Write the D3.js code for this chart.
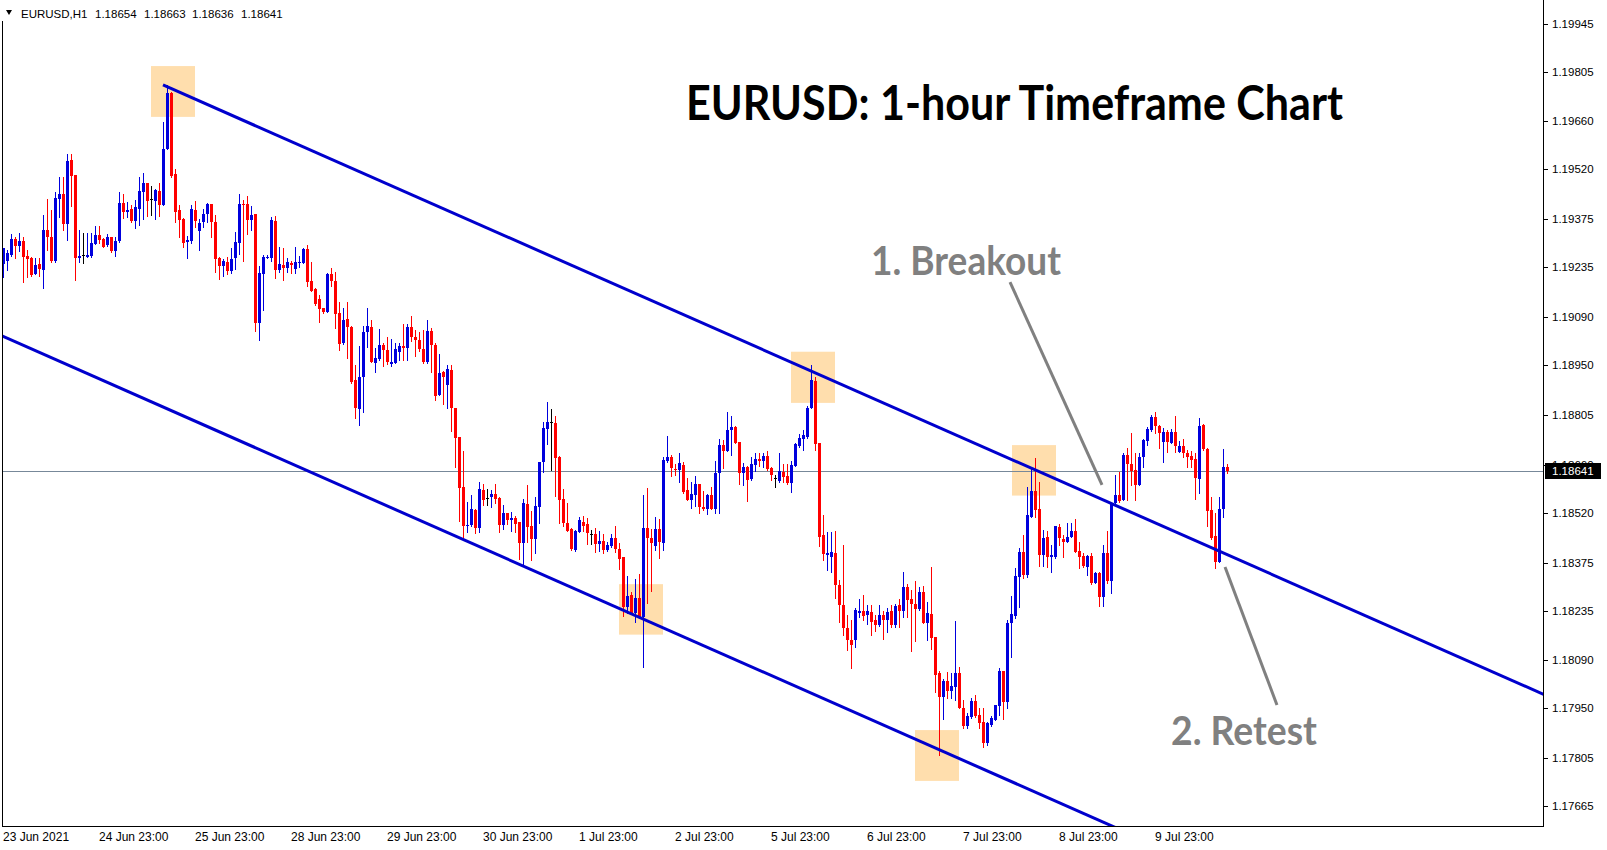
<!DOCTYPE html>
<html><head><meta charset="utf-8">
<script src="https://cdn.jsdelivr.net/npm/d3@7"></script>
<style>html,body{margin:0;padding:0;background:#fff;overflow:hidden}svg{display:block}</style>
</head><body>
<svg id="chart" width="1607" height="850"></svg>
<script>
// ---- DATA (EURUSD H1, bars from 23 Jun 23:00 to 12 Jul 2021) ----
const opens = [1.19245,1.19254,1.19271,1.19317,1.19297,1.19312,1.19268,1.19263,1.19214,1.19245,
1.19227,1.19344,1.19323,1.19253,1.19434,1.19449,1.19361,1.19548,1.19503,1.19263,
1.19270,1.19266,1.19268,1.19304,1.19329,1.19316,1.19300,1.19323,1.19281,1.19312,
1.19422,1.19397,1.19405,1.19370,1.19406,1.19453,1.19481,1.19433,1.19429,1.19457,
1.19415,1.19580,1.19744,1.19507,1.19402,1.19376,1.19309,1.19312,1.19402,1.19342,
1.19367,1.19390,1.19419,1.19367,1.19262,1.19240,1.19251,1.19224,1.19263,1.19307,
1.19419,1.19419,1.19374,1.19390,1.19074,1.19214,1.19263,1.19262,1.19370,1.19227,
1.19242,1.19234,1.19247,1.19230,1.19248,1.19247,1.19288,1.19195,1.19172,1.19144,
1.19117,1.19106,1.19215,1.19196,1.19102,1.19013,1.19084,1.19062,1.18907,1.18822,
1.18915,1.19045,1.19062,1.18957,1.18968,1.19009,1.18994,1.18954,1.18957,1.18989,
1.19006,1.19001,1.19060,1.19031,1.19023,1.18997,1.18958,1.19049,1.19010,1.18863,
1.18931,1.18892,1.18936,1.18824,1.18742,1.18595,1.18480,1.18485,1.18528,1.18476,
1.18586,1.18562,1.18565,1.18575,1.18564,1.18484,1.18519,1.18500,1.18505,1.18493,
1.18433,1.18545,1.18481,1.18443,1.18538,1.18668,1.18765,1.18783,1.18781,1.18682,
1.18560,1.18491,1.18473,1.18411,1.18465,1.18493,1.18487,1.18457,1.18458,1.18428,
1.18438,1.18411,1.18424,1.18445,1.18415,1.18390,1.18246,1.18280,1.18227,1.18272,
1.18215,1.18475,1.18447,1.18424,1.18473,1.18433,1.18672,1.18681,1.18648,1.18645,
1.18659,1.18586,1.18557,1.18572,1.18604,1.18536,1.18530,1.18572,1.18530,1.18635,
1.18716,1.18701,1.18761,1.18771,1.18726,1.18635,1.18654,1.18618,1.18659,1.18677,
1.18672,1.18685,1.18651,1.18622,1.18613,1.18640,1.18627,1.18606,1.18656,1.18714,
1.18735,1.18740,1.18824,1.18904,1.18722,1.18455,1.18396,1.18391,1.18403,1.18310,
1.18251,1.18184,1.18149,1.18149,1.18229,1.18233,1.18223,1.18231,1.18208,1.18193,
1.18222,1.18208,1.18234,1.18193,1.18251,1.18235,1.18305,1.18269,1.18255,1.18239,
1.18290,1.18200,1.18226,1.18159,1.18052,1.17984,1.18031,1.18002,1.18013,1.18054,
1.17952,1.17899,1.17926,1.17972,1.17931,1.17911,1.17850,1.17902,1.17916,1.17958,
1.18060,1.17970,1.18200,1.18219,1.18334,1.18406,1.18339,1.18509,1.18583,1.18531,
1.18397,1.18449,1.18390,1.18390,1.18478,1.18443,1.18436,1.18450,1.18468,1.18409,
1.18394,1.18363,1.18394,1.18316,1.18344,1.18276,1.18402,1.18321,1.18549,1.18572,
1.18557,1.18688,1.18662,1.18645,1.18601,1.18681,1.18730,1.18761,1.18798,1.18773,
1.18727,1.18754,1.18724,1.18756,1.18698,1.18714,1.18695,1.18685,1.18676,1.18618,
1.18776,1.18706,1.18528,1.18452,1.18378,1.18531,1.18654];

const highs = [1.19292,1.19285,1.19332,1.19322,1.19334,1.19324,1.19285,1.19266,1.19262,1.19261,
1.19387,1.19433,1.19402,1.19453,1.19499,1.19499,1.19565,1.19565,1.19505,1.19344,
1.19336,1.19336,1.19336,1.19355,1.19355,1.19319,1.19331,1.19324,1.19323,1.19455,
1.19449,1.19426,1.19415,1.19431,1.19499,1.19510,1.19481,1.19472,1.19464,1.19481,
1.19659,1.19766,1.19746,1.19522,1.19415,1.19378,1.19326,1.19416,1.19428,1.19377,
1.19405,1.19423,1.19419,1.19388,1.19266,1.19260,1.19265,1.19292,1.19338,1.19448,
1.19431,1.19443,1.19412,1.19390,1.19239,1.19271,1.19270,1.19381,1.19384,1.19294,
1.19290,1.19262,1.19254,1.19294,1.19268,1.19291,1.19301,1.19251,1.19176,1.19153,
1.19117,1.19219,1.19234,1.19222,1.19134,1.19117,1.19134,1.19064,1.18950,1.19006,
1.19063,1.19116,1.19081,1.18999,1.19055,1.19013,1.19033,1.19026,1.19013,1.19015,
1.19070,1.19070,1.19093,1.19052,1.19045,1.19052,1.19081,1.19059,1.19013,1.18982,
1.18934,1.18949,1.18949,1.18824,1.18742,1.18701,1.18552,1.18572,1.18530,1.18611,
1.18603,1.18588,1.18586,1.18604,1.18567,1.18542,1.18519,1.18521,1.18510,1.18493,
1.18560,1.18601,1.18526,1.18567,1.18668,1.18783,1.18842,1.18822,1.18802,1.18686,
1.18588,1.18549,1.18476,1.18470,1.18508,1.18510,1.18504,1.18470,1.18477,1.18467,
1.18458,1.18436,1.18458,1.18481,1.18431,1.18390,1.18336,1.18290,1.18327,1.18342,
1.18572,1.18593,1.18473,1.18507,1.18501,1.18683,1.18745,1.18688,1.18662,1.18694,
1.18669,1.18620,1.18610,1.18627,1.18604,1.18584,1.18575,1.18596,1.18672,1.18734,
1.18732,1.18813,1.18803,1.18773,1.18726,1.18664,1.18656,1.18683,1.18695,1.18693,
1.18695,1.18701,1.18654,1.18630,1.18693,1.18662,1.18662,1.18672,1.18722,1.18749,
1.18761,1.18831,1.18950,1.18916,1.18722,1.18513,1.18464,1.18464,1.18467,1.18324,
1.18426,1.18222,1.18208,1.18242,1.18268,1.18280,1.18251,1.18251,1.18222,1.18251,
1.18234,1.18242,1.18251,1.18254,1.18269,1.18346,1.18312,1.18295,1.18321,1.18305,
1.18308,1.18259,1.18363,1.18159,1.18060,1.18035,1.18057,1.18052,1.18205,1.18072,
1.17975,1.17938,1.17981,1.17989,1.17950,1.17950,1.17911,1.17928,1.17960,1.18067,
1.18060,1.18208,1.18278,1.18358,1.18416,1.18455,1.18596,1.18649,1.18680,1.18611,
1.18470,1.18468,1.18426,1.18481,1.18487,1.18455,1.18491,1.18489,1.18502,1.18436,
1.18402,1.18397,1.18402,1.18348,1.18348,1.18426,1.18467,1.18549,1.18630,1.18640,
1.18693,1.18708,1.18751,1.18693,1.18693,1.18734,1.18771,1.18805,1.18813,1.18776,
1.18766,1.18761,1.18763,1.18802,1.18729,1.18734,1.18703,1.18700,1.18693,1.18795,
1.18778,1.18708,1.18567,1.18518,1.18567,1.18706,1.18663];

const lows = [1.19208,1.19227,1.19268,1.19263,1.19281,1.19193,1.19208,1.19210,1.19214,1.19210,
1.19176,1.19285,1.19251,1.19251,1.19382,1.19344,1.19314,1.19412,1.19198,1.19251,
1.19247,1.19264,1.19266,1.19303,1.19305,1.19293,1.19297,1.19279,1.19268,1.19310,
1.19378,1.19380,1.19368,1.19350,1.19359,1.19377,1.19385,1.19388,1.19377,1.19385,
1.19415,1.19580,1.19499,1.19368,1.19324,1.19295,1.19263,1.19305,1.19353,1.19286,
1.19353,1.19368,1.19324,1.19222,1.19202,1.19211,1.19214,1.19219,1.19230,1.19274,
1.19253,1.19333,1.19344,1.19050,1.19023,1.19111,1.19261,1.19253,1.19205,1.19222,
1.19198,1.19222,1.19219,1.19217,1.19237,1.19246,1.19179,1.19166,1.19125,1.19077,
1.19101,1.19106,1.19179,1.19057,1.18994,1.19012,1.18972,1.18897,1.18795,1.18776,
1.18814,1.19004,1.18959,1.18931,1.18965,1.18948,1.18952,1.18948,1.18955,1.18965,
1.18965,1.18965,1.19021,1.18978,1.18992,1.18955,1.18957,1.18931,1.18848,1.18863,
1.18836,1.18824,1.18759,1.18654,1.18496,1.18450,1.18465,1.18481,1.18462,1.18463,
1.18544,1.18543,1.18538,1.18547,1.18465,1.18473,1.18487,1.18467,1.18465,1.18386,
1.18371,1.18436,1.18382,1.18404,1.18491,1.18640,1.18719,1.18644,1.18569,1.18491,
1.18481,1.18468,1.18411,1.18409,1.18463,1.18468,1.18428,1.18429,1.18407,1.18408,
1.18404,1.18409,1.18421,1.18407,1.18356,1.18219,1.18227,1.18225,1.18203,1.18212,
1.18070,1.18258,1.18292,1.18411,1.18389,1.18411,1.18669,1.18628,1.18630,1.18610,
1.18578,1.18557,1.18533,1.18541,1.18518,1.18528,1.18515,1.18530,1.18520,1.18520,
1.18651,1.18701,1.18688,1.18722,1.18604,1.18601,1.18554,1.18615,1.18643,1.18657,
1.18654,1.18644,1.18615,1.18596,1.18611,1.18611,1.18604,1.18581,1.18656,1.18712,
1.18703,1.18737,1.18824,1.18703,1.18423,1.18382,1.18353,1.18347,1.18272,1.18202,
1.18164,1.18120,1.18068,1.18130,1.18217,1.18208,1.18196,1.18164,1.18177,1.18190,
1.18152,1.18172,1.18186,1.18186,1.18186,1.18217,1.18217,1.18117,1.18146,1.18237,
1.18198,1.18149,1.18122,1.17999,1.17814,1.17918,1.17979,1.17979,1.17975,1.17950,
1.17892,1.17892,1.17923,1.17926,1.17892,1.17837,1.17843,1.17899,1.17916,1.17931,
1.17919,1.17950,1.18099,1.18212,1.18246,1.18329,1.18334,1.18509,1.18509,1.18365,
1.18365,1.18363,1.18348,1.18387,1.18426,1.18392,1.18434,1.18450,1.18407,1.18360,
1.18363,1.18339,1.18312,1.18314,1.18249,1.18249,1.18316,1.18287,1.18547,1.18552,
1.18557,1.18557,1.18601,1.18557,1.18601,1.18654,1.18717,1.18759,1.18751,1.18708,
1.18669,1.18698,1.18722,1.18698,1.18696,1.18683,1.18654,1.18654,1.18560,1.18578,
1.18703,1.18481,1.18443,1.18360,1.18376,1.18509,1.18636];

const closes = [1.19290,1.19276,1.19317,1.19297,1.19312,1.19266,1.19259,1.19213,1.19242,1.19230,
1.19344,1.19323,1.19253,1.19436,1.19449,1.19361,1.19545,1.19501,1.19263,1.19268,
1.19270,1.19270,1.19305,1.19329,1.19314,1.19295,1.19323,1.19281,1.19312,1.19422,
1.19397,1.19402,1.19370,1.19411,1.19457,1.19481,1.19429,1.19433,1.19459,1.19415,
1.19580,1.19744,1.19501,1.19397,1.19374,1.19307,1.19315,1.19405,1.19371,1.19364,
1.19390,1.19419,1.19368,1.19260,1.19240,1.19253,1.19225,1.19259,1.19309,1.19419,
1.19415,1.19374,1.19387,1.19074,1.19218,1.19266,1.19265,1.19373,1.19227,1.19245,
1.19234,1.19250,1.19242,1.19250,1.19251,1.19288,1.19193,1.19167,1.19127,1.19112,
1.19106,1.19216,1.19196,1.19100,1.19012,1.19081,1.19062,1.18901,1.18824,1.18914,
1.19047,1.19064,1.18959,1.18971,1.19009,1.18994,1.18959,1.18959,1.18997,1.19006,
1.19001,1.19060,1.19031,1.19023,1.18997,1.18958,1.19049,1.19009,1.18861,1.18928,
1.18916,1.18939,1.18824,1.18739,1.18592,1.18481,1.18483,1.18531,1.18475,1.18588,
1.18557,1.18562,1.18575,1.18559,1.18484,1.18519,1.18500,1.18505,1.18487,1.18433,
1.18548,1.18479,1.18443,1.18541,1.18668,1.18767,1.18784,1.18783,1.18680,1.18557,
1.18491,1.18468,1.18414,1.18467,1.18499,1.18481,1.18460,1.18457,1.18429,1.18438,
1.18411,1.18426,1.18446,1.18413,1.18385,1.18246,1.18277,1.18227,1.18272,1.18215,
1.18477,1.18447,1.18433,1.18473,1.18436,1.18674,1.18681,1.18649,1.18645,1.18664,
1.18581,1.18557,1.18575,1.18604,1.18536,1.18530,1.18572,1.18530,1.18637,1.18716,
1.18701,1.18761,1.18771,1.18724,1.18635,1.18654,1.18616,1.18662,1.18677,1.18672,
1.18685,1.18647,1.18630,1.18622,1.18642,1.18625,1.18608,1.18659,1.18720,1.18737,
1.18746,1.18826,1.18907,1.18720,1.18450,1.18400,1.18403,1.18406,1.18310,1.18251,
1.18184,1.18149,1.18135,1.18237,1.18234,1.18220,1.18233,1.18203,1.18193,1.18222,
1.18208,1.18231,1.18193,1.18248,1.18235,1.18305,1.18266,1.18253,1.18240,1.18290,
1.18198,1.18229,1.18156,1.18047,1.17984,1.18031,1.18002,1.18015,1.18054,1.17952,
1.17900,1.17929,1.17972,1.17928,1.17907,1.17850,1.17907,1.17923,1.17960,1.18060,
1.17970,1.18200,1.18225,1.18336,1.18406,1.18339,1.18513,1.18583,1.18528,1.18397,
1.18447,1.18392,1.18397,1.18481,1.18447,1.18434,1.18450,1.18468,1.18407,1.18390,
1.18365,1.18394,1.18316,1.18344,1.18276,1.18402,1.18321,1.18545,1.18572,1.18555,
1.18688,1.18662,1.18642,1.18601,1.18681,1.18732,1.18763,1.18800,1.18773,1.18753,
1.18754,1.18727,1.18754,1.18713,1.18714,1.18693,1.18683,1.18674,1.18622,1.18773,
1.18705,1.18526,1.18447,1.18378,1.18531,1.18654,1.18641];

const headerSymbol = "EURUSD,H1";
const headerValues = ["1.18654", "1.18663", "1.18636", "1.18641"];
const lastPrice = 1.18641;
const priceTicks = [1.19945,1.19805,1.19660,1.19520,1.19375,1.19235,1.19090,1.18950,1.18805,
                    1.18660,1.18520,1.18375,1.18235,1.18090,1.17950,1.17805,1.17665];
const timeLabelBars = [0,24,48,72,96,120,144,168,192,216,240,264,288];
const timeLabels = ["23 Jun 2021","24 Jun 23:00","25 Jun 23:00","28 Jun 23:00","29 Jun 23:00",
  "30 Jun 23:00","1 Jul 23:00","2 Jul 23:00","5 Jul 23:00","6 Jul 23:00","7 Jul 23:00",
  "8 Jul 23:00","9 Jul 23:00"];
// channel trendlines: anchor points (bar index, price)
const upperChannel = [{bar:40, price:1.19766}, {bar:385, price:1.17992}];
const lowerChannel = [{bar:0, price:1.19034}, {bar:276, price:1.17614}];
// highlighted touch zones (bar range, price range)
const zones = [
  {b0:37, b1:48, p0:1.19821, p1:1.19673},
  {b0:197, b1:208, p0:1.18989, p1:1.18840},
  {b0:154, b1:165, p0:1.18312, p1:1.18165},
  {b0:228, b1:239, p0:1.17887, p1:1.17739},
  {b0:252.25, b1:263.25, p0:1.18717, p1:1.18570}
];
// annotation pointer lines (bar, price) -> (bar, price)
const pointers = [
  {b0:251.75, p0:1.19192, b1:274.75, p1:1.18601},
  {b0:305.5, p0:1.18362, b1:318.5, p1:1.17960}
];
const titleText = "EURUSD: 1-hour Timeframe Chart";
const noteTexts = ["1. Breakout", "2. Retest"];

// ---- LAYOUT ----
const W = 1607, H = 850;
const plot = {left: 2, right: 1543, top: 0, bottom: 826};
const BULL = "#0000dd", BEAR = "#ff0000", DOJI = "#000000";
const LINE_BLUE = "#0000cd";
const axisFont = "'Liberation Sans', Arial, sans-serif";

const svg = d3.select("#chart");
svg.append("rect").attr("width", W).attr("height", H).attr("fill", "#fff");

const x = d3.scaleLinear().domain([0, 385]).range([3, 1543]);
const y = d3.scaleLinear().domain([1.19945, 1.17665]).range([23.5, 806.3]);

svg.append("defs").append("clipPath").attr("id", "plotclip")
  .append("rect").attr("x", plot.left).attr("y", plot.top)
  .attr("width", plot.right - plot.left).attr("height", plot.bottom - plot.top);

const g = svg.append("g").attr("clip-path", "url(#plotclip)");

// zones
g.selectAll("rect.zone").data(zones).join("rect").attr("class", "zone")
  .attr("x", d => x(d.b0)).attr("width", d => x(d.b1) - x(d.b0))
  .attr("y", d => y(d.p0)).attr("height", d => y(d.p1) - y(d.p0))
  .attr("fill", "#ffdead");

// bid line
const yLast = Math.round(y(lastPrice)) + 0.5;
g.append("line").attr("x1", plot.left).attr("x2", plot.right)
  .attr("y1", yLast).attr("y2", yLast)
  .attr("stroke", "#778899").attr("stroke-width", 1);

// candles
const bars = opens.map((o, i) => ({i, o, h: highs[i], l: lows[i], c: closes[i]}));
const col = d => d.c > d.o ? BULL : (d.c < d.o ? BEAR : DOJI);
const cg = g.append("g").attr("shape-rendering", "crispEdges");
cg.selectAll("rect.wick").data(bars).join("rect").attr("class", "wick")
  .attr("x", d => Math.round(x(d.i)))
  .attr("width", 1)
  .attr("y", d => Math.round(y(d.h)))
  .attr("height", d => Math.max(1, Math.round(y(d.l)) - Math.round(y(d.h)) + 1))
  .attr("fill", col);
cg.selectAll("rect.body").data(bars).join("rect").attr("class", "body")
  .attr("x", d => Math.round(x(d.i)) - 1)
  .attr("width", 3)
  .attr("y", d => Math.round(y(Math.max(d.o, d.c))))
  .attr("height", d => Math.max(1, Math.round(y(Math.min(d.o, d.c))) - Math.round(y(Math.max(d.o, d.c)))))
  .attr("fill", col);

// channel lines
function extendLine(a, b, from, to) {
  const s = (b.price - a.price) / (b.bar - a.bar);
  return [[from, a.price + (from - a.bar) * s], [to, a.price + (to - a.bar) * s]];
}
const lineGen = d3.line().x(d => x(d[0])).y(d => y(d[1]));
g.append("path").attr("d", lineGen(extendLine(upperChannel[0], upperChannel[1], upperChannel[0].bar, 392)))
  .attr("fill", "none").attr("stroke", LINE_BLUE).attr("stroke-width", 3);
g.append("path").attr("d", lineGen(extendLine(lowerChannel[0], lowerChannel[1], -2, 300)))
  .attr("fill", "none").attr("stroke", LINE_BLUE).attr("stroke-width", 3);

// pointer lines
g.selectAll("line.ptr").data(pointers).join("line").attr("class", "ptr")
  .attr("x1", d => x(d.b0)).attr("y1", d => y(d.p0))
  .attr("x2", d => x(d.b1)).attr("y2", d => y(d.p1))
  .attr("stroke", "#808080").attr("stroke-width", 3);

// annotation texts
const annFont = "Lato, 'Open Sans', sans-serif";
svg.append("text").attr("x", 686).attr("y", 120).text(titleText)
  .attr("font-family", annFont).attr("font-weight", 700).attr("font-size", 47)
  .attr("textLength", 657).attr("lengthAdjust", "spacingAndGlyphs").attr("fill", "#000");
svg.append("text").attr("x", 871).attr("y", 275).text(noteTexts[0])
  .attr("font-family", annFont).attr("font-weight", 700).attr("font-size", 40)
  .attr("textLength", 190).attr("lengthAdjust", "spacingAndGlyphs").attr("fill", "#808080");
svg.append("text").attr("x", 1171).attr("y", 745).text(noteTexts[1])
  .attr("font-family", annFont).attr("font-weight", 700).attr("font-size", 40)
  .attr("textLength", 146).attr("lengthAdjust", "spacingAndGlyphs").attr("fill", "#808080");

// frame
const fr = svg.append("g").attr("stroke", "#000").attr("stroke-width", 1).attr("shape-rendering", "crispEdges");
fr.append("line").attr("x1", plot.left + 0.5).attr("x2", plot.left + 0.5).attr("y1", 21).attr("y2", plot.bottom + 1);
fr.append("line").attr("x1", plot.left).attr("x2", plot.right + 1).attr("y1", plot.bottom + 0.5).attr("y2", plot.bottom + 0.5);
fr.append("line").attr("x1", plot.right + 0.5).attr("x2", plot.right + 0.5).attr("y1", 0).attr("y2", plot.bottom + 1);

// price axis
const pa = svg.append("g");
pa.selectAll("line").data(priceTicks).join("line")
  .attr("x1", plot.right + 1).attr("x2", plot.right + 5)
  .attr("y1", d => Math.round(y(d)) + 0.5).attr("y2", d => Math.round(y(d)) + 0.5)
  .attr("stroke", "#000").attr("shape-rendering", "crispEdges");
pa.selectAll("text").data(priceTicks).join("text")
  .attr("x", 1552).attr("y", d => y(d) + 4)
  .attr("font-family", axisFont).attr("font-size", 11.5).attr("fill", "#000")
  .text(d => d.toFixed(5));

// last price label
svg.append("rect").attr("x", 1545).attr("y", Math.round(y(lastPrice)) - 8)
  .attr("width", 56).attr("height", 16).attr("fill", "#000");
svg.append("text").attr("x", 1552).attr("y", y(lastPrice) + 4)
  .attr("font-family", axisFont).attr("font-size", 11.5).attr("fill", "#fff")
  .text(lastPrice.toFixed(5));

// time axis
svg.append("g").selectAll("text").data(timeLabels).join("text")
  .attr("x", (d, i) => x(timeLabelBars[i])).attr("y", 841)
  .attr("font-family", axisFont).attr("font-size", 12).attr("fill", "#000")
  .text(d => d);

// header
svg.append("path").attr("d", d3.line()([[6, 10], [12, 10], [9, 15]]) + "Z").attr("fill", "#000");
svg.append("text").attr("x", 21).attr("y", 18).text(headerSymbol)
  .attr("font-family", axisFont).attr("font-size", 11.5).attr("fill", "#000");
const headerX = [95, 144, 192, 241];
svg.append("g").selectAll("text").data(headerValues).join("text")
  .attr("x", (d, i) => headerX[i]).attr("y", 18)
  .attr("font-family", axisFont).attr("font-size", 11.5).attr("fill", "#000")
  .text(d => d);
</script>
</body></html>
